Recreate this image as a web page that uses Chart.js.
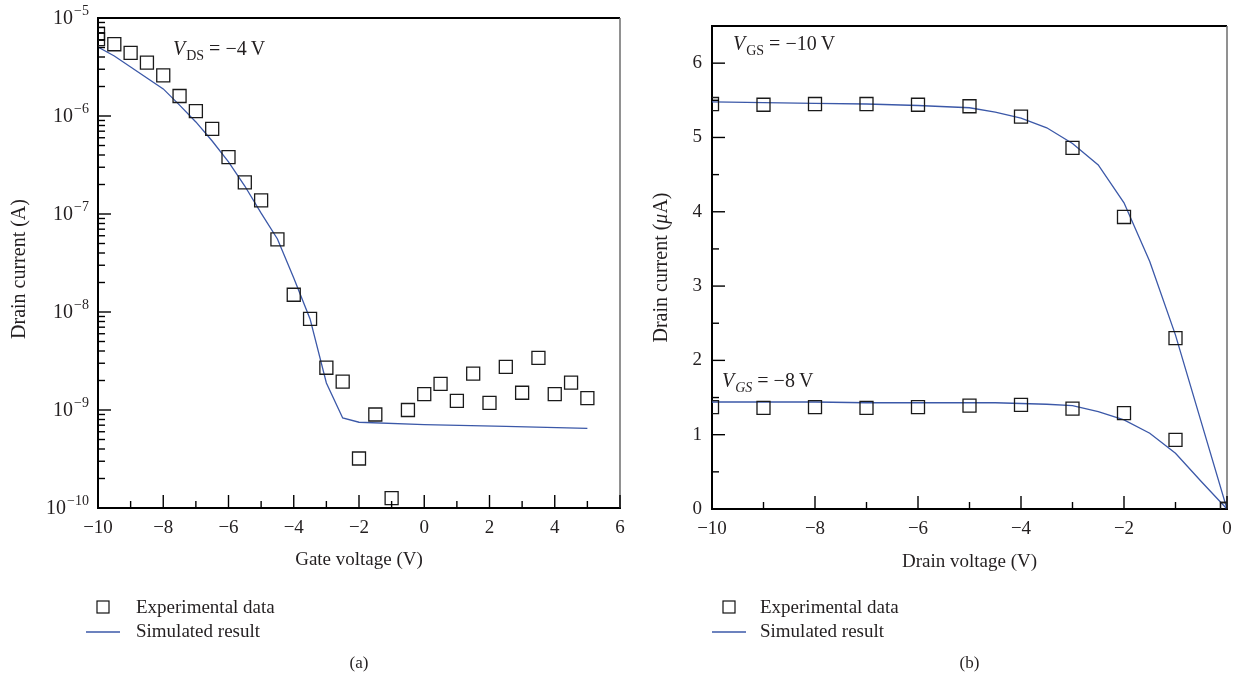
<!DOCTYPE html>
<html lang="en">
<head>
<meta charset="UTF-8">
<title>Drain current vs gate and drain voltage</title>
<script src="https://cdn.jsdelivr.net/npm/chart.js"></script>
<style>
  body { margin: 0; background: #fff; width: 1241px; height: 682px; overflow: hidden; }
  .panel { position: absolute; top: 0; }
  #panelA { left: 0; }
  #panelB { left: 640px; }
</style>
</head>
<body>
<div class="panel" id="panelA"><canvas id="chartA" width="640" height="682"></canvas></div>
<div class="panel" id="panelB"><canvas id="chartB" width="601" height="682"></canvas></div>
<script>
// ---- (a) transfer curve, V_DS = -4 V ----
const gateVoltage = [-10, -10, -9.5, -9, -8.5, -8, -7.5, -7, -6.5, -6, -5.5, -5, -4.5, -4, -3.5, -3,
  -2.5, -2, -1.5, -1, -0.5, 0, 0.5, 1, 1.5, 2, 2.5, 3, 3.5, 4, 4.5, 5];
const transferMeasured = [6.9e-6, 6.1e-6, 5.4e-6, 4.4e-6, 3.5e-6, 2.6e-6, 1.6e-6, 1.12e-6, 7.4e-7, 3.8e-7,
  2.1e-7, 1.38e-7, 5.5e-8, 1.5e-8, 8.5e-9, 2.7e-9, 1.95e-9, 3.2e-10, 9.0e-10, 1.26e-10, 1.0e-9,
  1.45e-9, 1.85e-9, 1.24e-9, 2.35e-9, 1.18e-9, 2.75e-9, 1.5e-9, 3.4e-9, 1.45e-9, 1.9e-9, 1.32e-9];
const gateVoltageSim = [-10, -9.5, -9, -8.5, -8, -7.5, -7, -6.5, -6, -5.5, -5, -4.5, -4, -3.5, -3, -2.5, -2, 0, 2.5, 5];
const transferSim = [5.06e-6, 4.09e-6, 3.16e-6, 2.44e-6, 1.89e-6, 1.29e-6, 8.7e-7, 5.56e-7, 3.4e-7, 1.93e-7,
  1.02e-7, 5.56e-8, 2.22e-8, 8.5e-9, 1.89e-9, 8.3e-10, 7.5e-10, 7.1e-10, 6.8e-10, 6.5e-10];

// ---- (b) output curves ----
const drainVoltage = [-10, -9, -8, -7, -6, -5, -4, -3, -2, -1, 0];
const measuredVgs10 = [5.45, 5.44, 5.45, 5.45, 5.44, 5.42, 5.28, 4.86, 3.93, 2.30, 0];
const measuredVgs8 = [1.37, 1.36, 1.37, 1.36, 1.37, 1.39, 1.40, 1.35, 1.29, 0.93, 0];
const drainVoltageSim = [-10, -9, -8, -7, -6, -5, -4.5, -4, -3.5, -3, -2.5, -2, -1.5, -1, -0.5, 0];
const simVgs10 = [5.48, 5.47, 5.46, 5.45, 5.43, 5.40, 5.34, 5.26, 5.13, 4.92, 4.63, 4.12, 3.33, 2.34, 1.17, 0];
const simVgs8 = [1.44, 1.44, 1.44, 1.43, 1.43, 1.43, 1.43, 1.42, 1.41, 1.39, 1.31, 1.20, 1.02, 0.75, 0.37, 0];

// ---- ticks ----
const gateTicks = [-10, -8, -6, -4, -2, 0, 2, 4, 6];
const currentDecades = [-10, -9, -8, -7, -6, -5];
const drainTicks = [-10, -8, -6, -4, -2, 0];
const currentTicksUA = [0, 1, 2, 3, 4, 5, 6];

const serif = '"Liberation Serif", "Times New Roman", serif';
const ink = '#231f20';
const blue = '#3b58a8';

const pts = (xs, ys) => xs.map((v, i) => ({ x: v, y: ys[i] }));
const fmt = v => (v < 0 ? '\u2212' + Math.abs(v) : String(v));
const halves = (list, step) => list.slice(0, -1).map(v => v + step);

function line(ctx, x1, y1, x2, y2) {
  ctx.beginPath(); ctx.moveTo(x1, y1); ctx.lineTo(x2, y2); ctx.stroke();
}

function runsWidth(ctx, runs) {
  return runs.reduce((w, r) => { ctx.font = r.font; return w + ctx.measureText(r.text).width + (r.gap || 0); }, 0);
}

function drawRuns(ctx, x, y, runs) {
  ctx.textAlign = 'left';
  ctx.textBaseline = 'alphabetic';
  runs.forEach(r => {
    ctx.font = r.font;
    ctx.fillText(r.text, x, y + (r.dy || 0));
    x += ctx.measureText(r.text).width + (r.gap || 0);
  });
}

const vLabel = (sub, rest, italicSub) => [
  { text: 'V', font: 'italic 20px ' + serif, gap: 1 },
  { text: sub, font: (italicSub ? 'italic ' : '') + '14px ' + serif, dy: 5, gap: 5 },
  { text: rest, font: '20px ' + serif }
];

// frame, inward ticks, log labels, notes, legend and caption
const panelDecor = {
  id: 'panelDecor',
  afterDraw(chart, args, o) {
    const { ctx, chartArea: a } = chart;
    const x = chart.scales.x, y = chart.scales.y;
    ctx.save();
    ctx.lineCap = 'butt';
    ctx.strokeStyle = '#000'; ctx.lineWidth = 2;
    line(ctx, a.left - 1, a.top, a.right, a.top);
    ctx.strokeStyle = '#6d6d6d'; ctx.lineWidth = 1.5;
    line(ctx, a.right, a.top, a.right, a.bottom);

    ctx.strokeStyle = '#000'; ctx.lineWidth = 1.4;
    o.xMajor.forEach(v => { const p = x.getPixelForValue(v); line(ctx, p, a.bottom, p, a.bottom - 13); });
    o.xMinor.forEach(v => { const p = x.getPixelForValue(v); line(ctx, p, a.bottom, p, a.bottom - 7); });
    o.yMajor.forEach(v => { const p = y.getPixelForValue(v); line(ctx, a.left, p, a.left + 13, p); });
    o.yMinor.forEach(v => { const p = y.getPixelForValue(v); line(ctx, a.left, p, a.left + 7, p); });

    ctx.fillStyle = ink;
    if (o.logLabels) {
      o.logLabels.forEach(e => {
        const p = y.getPixelForValue(Math.pow(10, e));
        const exp = fmt(e);
        ctx.font = '14px ' + serif;
        const we = ctx.measureText(exp).width;
        ctx.textAlign = 'right'; ctx.textBaseline = 'middle';
        ctx.fillText(exp, 89, p - 7);
        ctx.font = '20px ' + serif;
        ctx.fillText('10', 89 - we - 1, p + 1);
      });
    }

    // rotated y title with mixed styles
    const yt = o.yTitle;
    ctx.save();
    ctx.translate(yt.x, (a.top + a.bottom) / 2 + yt.shift);
    ctx.rotate(-Math.PI / 2);
    drawRuns(ctx, -runsWidth(ctx, yt.runs) / 2, 7, yt.runs);
    ctx.restore();

    o.notes.forEach(n => drawRuns(ctx, n.x, n.y, n.runs));

    const l = o.legendX;
    ctx.strokeStyle = '#111'; ctx.lineWidth = 1.2;
    ctx.strokeRect(l + 11, 601, 12, 12);
    ctx.strokeStyle = blue; ctx.lineWidth = 1.3;
    line(ctx, l, 632, l + 34, 632);
    ctx.font = '19px ' + serif; ctx.textAlign = 'left'; ctx.textBaseline = 'middle';
    ctx.fillText('Experimental data', o.legendTextX, 608);
    ctx.fillText('Simulated result', o.legendTextX, 632);

    ctx.font = '17px ' + serif; ctx.textAlign = 'center';
    ctx.fillText(o.caption, (a.left + a.right) / 2, 664);
    ctx.restore();
  }
};

const tickFont = { family: serif, size: 19 };
const titleFont = { family: serif, size: 19 };

function scatterSet(label, data) {
  return {
    label, data, showLine: false, clip: 0,
    pointStyle: 'rect', pointRadius: 9.2, pointHoverRadius: 9.2,
    pointBorderColor: '#1a1a1a', pointBackgroundColor: 'rgba(0,0,0,0)', pointBorderWidth: 1.3
  };
}
function simSet(label, data) {
  return { label, data, borderColor: blue, borderWidth: 1.3, pointRadius: 0, tension: 0, clip: 0, fill: false };
}

const common = {
  responsive: false,
  animation: false,
  events: [],
};

// (a)
new Chart(document.getElementById('chartA'), {
  type: 'line',
  data: {
    datasets: [
      scatterSet('Experimental data', pts(gateVoltage, transferMeasured)),
      simSet('Simulated result', pts(gateVoltageSim, transferSim))
    ]
  },
  options: {
    ...common,
    layout: { padding: { left: 0, right: 20, top: 18, bottom: 110 } },
    scales: {
      x: {
        type: 'linear', min: -10, max: 6,
        afterBuildTicks: s => { s.ticks = gateTicks.map(v => ({ value: v })); },
        afterFit: s => { s.height = 64; },
        grid: { display: false, drawTicks: false },
        border: { color: '#000', width: 2 },
        ticks: { font: tickFont, color: ink, padding: 9, maxRotation: 0, autoSkip: false, callback: v => fmt(v) },
        title: { display: true, text: 'Gate voltage (V)', font: titleFont, color: ink, padding: { top: 0, bottom: 1 } }
      },
      y: {
        type: 'logarithmic', min: 1e-10, max: 1e-5,
        afterFit: s => { s.width = 98; },
        grid: { display: false, drawTicks: false },
        border: { color: '#000', width: 2 },
        ticks: { display: false },
        title: { display: false }
      }
    },
    plugins: {
      legend: { display: false },
      tooltip: { enabled: false },
      panelDecor: {
        xMajor: gateTicks, xMinor: halves(gateTicks, 1),
        yMajor: currentDecades.map(e => Math.pow(10, e)),
        yMinor: currentDecades.slice(0, -1).flatMap(e => [2, 3, 4, 5, 6, 7, 8, 9].map(m => m * Math.pow(10, e))),
        logLabels: currentDecades,
        yTitle: { x: 18, shift: 6, runs: [{ text: 'Drain current (A)', font: '20px ' + serif }] },
        notes: [{ x: 173, y: 55, runs: vLabel('DS', '= \u22124\u2009V') }],
        legendX: 86, legendTextX: 136, caption: '(a)'
      }
    }
  },
  plugins: [panelDecor]
});

// (b)
new Chart(document.getElementById('chartB'), {
  type: 'line',
  data: {
    datasets: [
      scatterSet('Experimental data', pts(drainVoltage, measuredVgs10)),
      scatterSet('Experimental data', pts(drainVoltage, measuredVgs8)),
      simSet('Simulated result', pts(drainVoltageSim, simVgs10)),
      simSet('Simulated result', pts(drainVoltageSim, simVgs8))
    ]
  },
  options: {
    ...common,
    layout: { padding: { left: 0, right: 14, top: 26, bottom: 109 } },
    scales: {
      x: {
        type: 'linear', min: -10, max: 0,
        afterBuildTicks: s => { s.ticks = drainTicks.map(v => ({ value: v })); },
        afterFit: s => { s.height = 64; },
        grid: { display: false, drawTicks: false },
        border: { color: '#000', width: 2 },
        ticks: { font: tickFont, color: ink, padding: 9, maxRotation: 0, autoSkip: false, callback: v => fmt(v) },
        title: { display: true, text: 'Drain voltage (V)', font: titleFont, color: ink, padding: { top: 0, bottom: 0 } }
      },
      y: {
        type: 'linear', min: 0, max: 6.5,
        afterBuildTicks: s => { s.ticks = currentTicksUA.map(v => ({ value: v })); },
        afterFit: s => { s.width = 72; },
        grid: { display: false, drawTicks: false },
        border: { color: '#000', width: 2 },
        ticks: { font: tickFont, color: ink, padding: 10, callback: v => fmt(v) },
        title: { display: false }
      }
    },
    plugins: {
      legend: { display: false },
      tooltip: { enabled: false },
      panelDecor: {
        xMajor: drainTicks, xMinor: halves(drainTicks, 1),
        yMajor: currentTicksUA, yMinor: currentTicksUA.map(v => v + 0.5),
        yTitle: { x: 20, shift: 0, runs: [
          { text: 'Drain current (', font: '20px ' + serif },
          { text: '\u03bc', font: 'italic 20px ' + serif },
          { text: 'A)', font: '20px ' + serif }
        ] },
        notes: [
          { x: 93, y: 50, runs: vLabel('GS', '= \u221210\u2009V') },
          { x: 82, y: 387, runs: vLabel('GS', '= \u22128\u2009V', true) }
        ],
        legendX: 72, legendTextX: 120, caption: '(b)'
      }
    }
  },
  plugins: [panelDecor]
});
</script>
</body>
</html>
